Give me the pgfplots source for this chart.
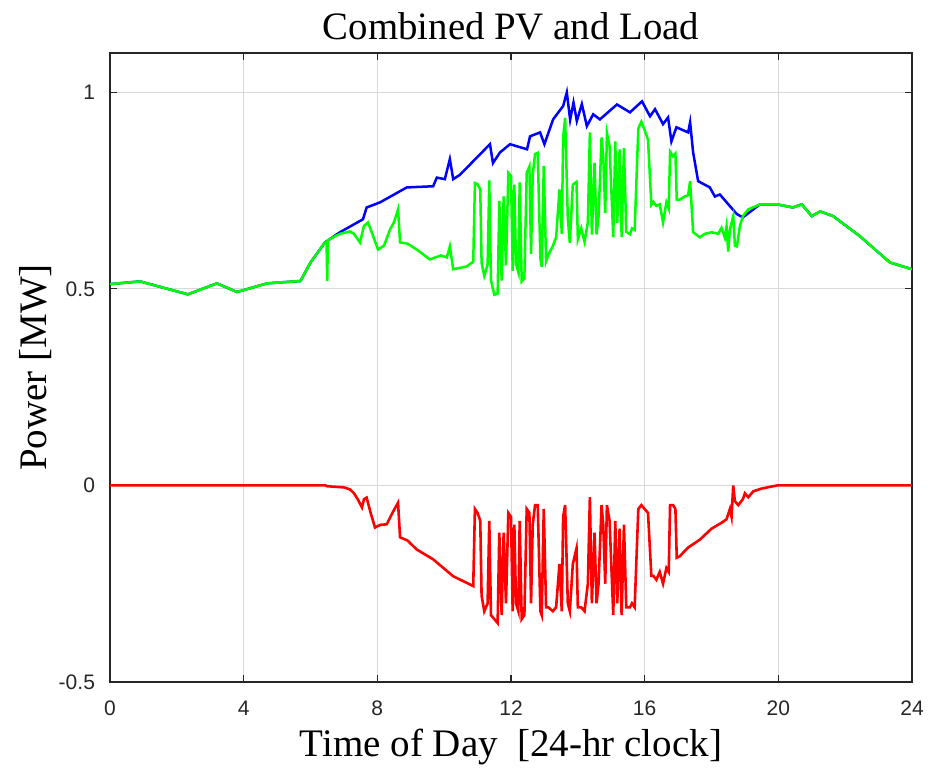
\documentclass[border=0pt]{standalone}
\usepackage{fontspec}
\setmainfont{Liberation Serif}
\newfontfamily\arial{Liberation Sans}
\usepackage{pgfplots}
\usepackage{pgfplotstable}
\pgfplotsset{compat=1.18}

\definecolor{axgray}{rgb}{0.15,0.15,0.15}
\definecolor{gridgray}{rgb}{0.85,0.85,0.85}

% load (blue)
\pgfplotstableread{
t p
0.00 0.512
0.90 0.519
2.33 0.486
3.20 0.514
3.80 0.492
4.70 0.514
5.70 0.520
6.00 0.567
6.43 0.618
6.88 0.644
7.57 0.677
7.68 0.707
8.08 0.720
8.88 0.758
9.67 0.761
9.78 0.783
10.02 0.779
10.17 0.830
10.27 0.779
10.47 0.790
11.37 0.868
11.46 0.820
11.67 0.847
11.97 0.868
12.48 0.855
12.57 0.888
12.87 0.898
13.00 0.868
13.26 0.931
13.56 0.965
13.67 1.000
13.77 0.930
13.87 0.974
13.97 0.927
14.12 0.970
14.27 0.914
14.46 0.944
14.66 0.931
15.17 0.969
15.56 0.949
15.92 0.977
16.16 0.939
16.31 0.957
16.55 0.919
16.70 0.936
16.80 0.875
16.95 0.911
17.30 0.898
17.36 0.924
17.45 0.847
17.60 0.774
17.95 0.758
18.10 0.735
18.25 0.740
18.76 0.690
18.94 0.682
19.45 0.715
19.96 0.715
20.44 0.707
20.70 0.715
21.00 0.685
21.25 0.697
21.64 0.685
22.44 0.634
23.34 0.567
24.00 0.550
}\loadtab

% PV (red)
\pgfplotstableread{
t p
0.00 0.000
6.45 0.000
6.50 -0.002
7.00 -0.005
7.18 -0.010
7.30 -0.020
7.42 -0.036
7.54 -0.056
7.60 -0.035
7.68 -0.031
7.80 -0.070
7.93 -0.107
8.10 -0.100
8.28 -0.099
8.45 -0.070
8.62 -0.044
8.68 -0.132
8.90 -0.140
9.18 -0.163
9.67 -0.188
10.27 -0.231
10.87 -0.256
10.92 -0.060
11.00 -0.070
11.08 -0.090
11.12 -0.280
11.20 -0.320
11.30 -0.300
11.35 -0.090
11.40 -0.330
11.50 -0.340
11.60 -0.350
11.65 -0.120
11.72 -0.330
11.78 -0.120
11.85 -0.300
11.92 -0.070
12.00 -0.080
12.05 -0.320
12.10 -0.100
12.15 -0.300
12.22 -0.320
12.26 -0.090
12.32 -0.340
12.40 -0.330
12.47 -0.060
12.55 -0.070
12.60 -0.300
12.65 -0.100
12.72 -0.050
12.80 -0.050
12.88 -0.320
12.92 -0.330
12.98 -0.060
13.05 -0.310
13.12 -0.310
13.25 -0.320
13.35 -0.310
13.45 -0.200
13.52 -0.320
13.56 -0.080
13.62 -0.050
13.70 -0.300
13.76 -0.320
13.85 -0.200
13.96 -0.160
14.00 -0.310
14.10 -0.310
14.20 -0.320
14.30 -0.250
14.36 -0.030
14.42 -0.300
14.50 -0.120
14.56 -0.300
14.62 -0.250
14.71 -0.050
14.76 -0.100
14.82 -0.250
14.87 -0.050
14.95 -0.090
15.06 -0.330
15.12 -0.090
15.18 -0.300
15.25 -0.110
15.31 -0.330
15.38 -0.100
15.45 -0.310
15.56 -0.310
15.62 -0.300
15.70 -0.310
15.81 -0.060
15.90 -0.050
16.00 -0.060
16.10 -0.070
16.20 -0.230
16.26 -0.230
16.35 -0.240
16.45 -0.220
16.55 -0.250
16.65 -0.210
16.72 -0.220
16.76 -0.050
16.85 -0.050
16.92 -0.060
16.96 -0.184
17.05 -0.180
17.30 -0.158
17.65 -0.138
18.00 -0.110
18.30 -0.095
18.45 -0.086
18.55 -0.060
18.60 -0.080
18.65 0.000
18.70 -0.040
18.80 -0.050
18.94 -0.035
19.00 -0.020
19.10 -0.030
19.25 -0.015
19.50 -0.008
19.96 0.000
24.00 0.000
}\pvtab

% load + PV (green)
\pgfplotstableread{
t p
0.00 0.512
0.90 0.519
2.33 0.486
3.20 0.514
3.80 0.492
4.70 0.514
5.70 0.520
6.00 0.567
6.43 0.618
6.48 0.620
6.50 0.520
6.52 0.624
6.88 0.640
7.18 0.646
7.30 0.640
7.48 0.618
7.60 0.660
7.72 0.669
7.85 0.640
8.02 0.600
8.20 0.610
8.38 0.651
8.50 0.670
8.62 0.702
8.68 0.618
8.90 0.615
9.18 0.600
9.57 0.575
9.90 0.585
10.08 0.580
10.17 0.608
10.27 0.550
10.67 0.557
10.87 0.569
10.92 0.769
11.00 0.766
11.08 0.753
11.12 0.566
11.20 0.533
11.30 0.562
11.35 0.776
11.40 0.522
11.50 0.485
11.60 0.488
11.65 0.724
11.72 0.521
11.78 0.735
11.85 0.560
11.92 0.795
12.00 0.787
12.05 0.546
12.10 0.765
12.15 0.563
12.22 0.542
12.26 0.771
12.32 0.519
12.40 0.527
12.47 0.795
12.55 0.811
12.60 0.589
12.65 0.791
12.72 0.843
12.80 0.846
12.88 0.576
12.92 0.556
12.98 0.813
13.05 0.570
13.12 0.587
13.25 0.609
13.35 0.631
13.45 0.753
13.52 0.640
13.56 0.885
13.62 0.935
13.70 0.679
13.76 0.617
13.85 0.765
13.96 0.772
14.00 0.626
14.10 0.654
14.20 0.620
14.30 0.669
14.36 0.898
14.42 0.638
14.50 0.821
14.56 0.638
14.62 0.684
14.71 0.885
14.76 0.838
14.82 0.693
14.87 0.897
14.95 0.863
15.06 0.631
15.12 0.875
15.18 0.668
15.25 0.855
15.31 0.632
15.38 0.858
15.45 0.645
15.56 0.639
15.62 0.654
15.70 0.650
15.81 0.908
15.90 0.925
16.00 0.904
16.10 0.879
16.20 0.714
16.26 0.721
16.35 0.711
16.45 0.715
16.55 0.669
16.65 0.720
16.72 0.704
16.76 0.849
16.85 0.837
16.92 0.844
16.96 0.727
17.05 0.727
17.20 0.735
17.30 0.738
17.36 0.774
17.45 0.644
17.65 0.631
17.80 0.640
18.00 0.644
18.20 0.640
18.30 0.655
18.40 0.630
18.45 0.659
18.50 0.595
18.55 0.650
18.65 0.685
18.70 0.610
18.76 0.608
18.85 0.660
18.94 0.685
19.10 0.702
19.45 0.715
19.96 0.715
20.44 0.707
20.70 0.715
21.00 0.685
21.25 0.697
21.64 0.685
22.44 0.634
23.34 0.567
24.00 0.550
}\nettab

\begin{document}
\begin{tikzpicture}
\begin{axis}[
    name=ax,
    scale only axis,
    width=401pt, height=314.5pt,
    xmin=0, xmax=24, ymin=-0.5, ymax=1.1,
    xtick={0,4,...,24},
    ytick={-0.5,0,0.5,1},
    axis line style={axgray, line width=0.6pt},
    tick style={axgray, line width=0.6pt},
    tick align=inside,
    major tick length=3.5pt,
    grid=major,
    major grid style={gridgray, line width=0.5pt},
    ticklabel style={font=\arial\fontsize{10.5}{12}\selectfont, text=axgray},
    xticklabel style={yshift=-6pt},
    yticklabel style={xshift=-4pt},
    /pgf/number format/assume math mode=true,
    title={Combined PV and Load},
    title style={font=\fontsize{19.4}{22}\selectfont, at={(0.5,1.0016)}, anchor=base},
    xlabel={Time of Day\ \ [24-hr clock]},
    xlabel style={font=\fontsize{19.5}{22}\selectfont, at={(0.5,-0.118)}, anchor=base},
    ylabel={Power [MW]},
    ylabel style={font=\fontsize{19.5}{22}\selectfont, at={(-0.079,0.5)}, anchor=base},
]
\addplot[blue, line width=1.25pt] table[x=t, y=p] {\loadtab};
\addplot[green, line width=1.25pt] table[x=t, y=p] {\nettab};
\addplot[red, line width=1.3pt] table[x=t, y=p] {\pvtab};
\end{axis}
\pgfresetboundingbox
\path[use as bounding box] ([xshift=-55pt,yshift=-46pt]ax.south west) rectangle ([xshift=9pt,yshift=26.5pt]ax.north east);
\end{tikzpicture}
\end{document}
